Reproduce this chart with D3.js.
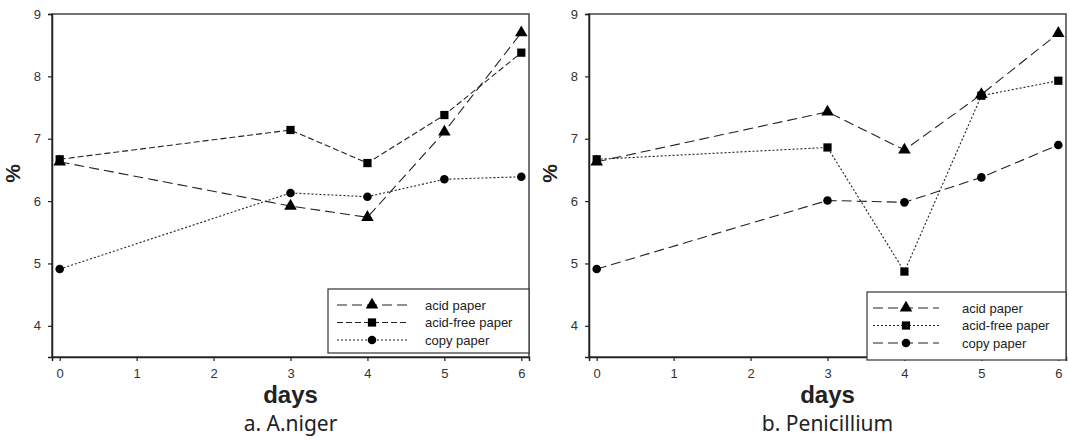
<!DOCTYPE html>
<html>
<head>
<meta charset="utf-8">
<script src="https://cdn.jsdelivr.net/npm/d3@7"></script>
<style>
  body { margin: 0; background: #fff; }
  svg { display: block; }
</style>
</head>
<body>
<svg id="chart" width="1069" height="440"></svg>
<script>
const days = [0, 3, 4, 5, 6];
const xTicks = [0, 1, 2, 3, 4, 5, 6];
const yTicks = [4, 5, 6, 7, 8, 9];
const seriesNames = ["acid paper", "acid-free paper", "copy paper"];

// A.niger
const nigerAcid = [6.63, 5.92, 5.74, 7.11, 8.70];
const nigerAcidFree = [6.67, 7.14, 6.61, 7.38, 8.38];
const nigerCopy = [4.91, 6.13, 6.07, 6.35, 6.39];

// Penicillium
const peniAcid = [6.63, 7.43, 6.82, 7.71, 8.69];
const peniAcidFree = [6.67, 6.86, 4.87, 7.69, 7.93];
const peniCopy = [4.91, 6.01, 5.98, 6.38, 6.90];

const svg = d3.select("#chart");

const plotH = 343;
const plotTop = 14;

const symbols = [d3.symbolTriangle, d3.symbolSquare, d3.symbolCircle];
const symSizes = [68, 68, 58];

function drawPanel(opts) {
  const { left, width, series, dashes, caption, legend } = opts;

  const x = d3.scaleLinear().domain([-0.1, 6.1]).range([0, width]);
  const y = d3.scaleLinear().domain([3.5, 9]).range([plotH, 0]);

  const g = svg.append("g").attr("transform", `translate(${left},${plotTop})`);

  // frame
  g.append("rect")
    .attr("width", width).attr("height", plotH)
    .attr("fill", "none").attr("stroke", "#444").attr("stroke-width", 1.5);

  const xAxis = g.append("g")
    .attr("transform", `translate(0,${plotH})`)
    .call(d3.axisBottom(x).tickValues(xTicks).tickFormat(d3.format("d")).tickSize(4).tickPadding(8));
  const yAxis = g.append("g")
    .call(d3.axisLeft(y).tickValues(yTicks).tickFormat(d3.format("d")).tickSize(4).tickPadding(7));

  [xAxis, yAxis].forEach(a => {
    a.attr("font-family", null).attr("font-size", null);
    a.select(".domain").attr("stroke", "#222").attr("stroke-width", 1.5);
    a.selectAll(".tick line").attr("stroke", "#222").attr("stroke-width", 1.2);
    a.selectAll("text")
      .style("font-family", "Liberation Sans, Arial, sans-serif")
      .style("font-size", "13px")
      .attr("fill", "#333");
  });

  const line = d3.line().x((d, i) => x(days[i])).y(d => y(d));

  series.forEach((vals, si) => {
    g.append("path")
      .datum(vals)
      .attr("d", line)
      .attr("fill", "none")
      .attr("stroke", "#222")
      .attr("stroke-width", 1.1)
      .attr("stroke-dasharray", dashes[si]);

    g.selectAll(".pt" + si)
      .data(vals)
      .enter()
      .append("path")
      .attr("transform", (d, i) => `translate(${x(days[i])},${y(d)})`)
      .attr("d", d3.symbol().type(symbols[si]).size(symSizes[si]))
      .attr("fill", "#000");
  });

  // legend
  const lg = g.append("g").attr("transform", `translate(${legend.x},${legend.y})`);
  lg.append("rect")
    .attr("width", width - legend.x).attr("height", legend.h)
    .attr("fill", "#fff").attr("stroke", "#333").attr("stroke-width", 1.2);

  seriesNames.forEach((name, si) => {
    const ry = 16 + si * 17.5;
    lg.append("line")
      .attr("x1", legend.lx1).attr("x2", legend.lx2)
      .attr("y1", ry).attr("y2", ry)
      .attr("stroke", "#222").attr("stroke-width", 1.1)
      .attr("stroke-dasharray", dashes[si]);
    lg.append("path")
      .attr("transform", `translate(${(legend.lx1 + legend.lx2) / 2},${ry})`)
      .attr("d", d3.symbol().type(symbols[si]).size(symSizes[si]))
      .attr("fill", "#000");
    lg.append("text")
      .attr("x", legend.tx).attr("y", ry + 4.5)
      .style("font-family", "Liberation Sans, Arial, sans-serif")
      .style("font-size", "13px")
      .attr("fill", "#222")
      .text(name);
  });

  // axis titles
  g.append("text")
    .attr("x", width / 2).attr("y", plotH + 46)
    .attr("text-anchor", "middle")
    .style("font-family", "Liberation Sans, Arial, sans-serif")
    .style("font-size", "24px")
    .style("font-weight", "bold")
    .attr("fill", "#222")
    .text("days");

  g.append("text")
    .attr("transform", `translate(-32,${plotH / 2 - 12}) rotate(-90)`)
    .attr("text-anchor", "middle")
    .style("font-family", "Liberation Sans, Arial, sans-serif")
    .style("font-size", "21px")
    .style("font-weight", "bold")
    .attr("fill", "#222")
    .text("%");

  g.append("text")
    .attr("x", width / 2).attr("y", plotH + 74)
    .attr("text-anchor", "middle")
    .style("font-family", "Noto Sans, sans-serif")
    .style("font-size", "21px")
    .attr("fill", "#222")
    .text(caption);
}

drawPanel({
  left: 52, width: 477,
  series: [nigerAcid, nigerAcidFree, nigerCopy],
  dashes: ["10,5", "6,3", "2,2"],
  caption: "a. A.niger",
  legend: { x: 276, y: 275, h: 64, lx1: 9, lx2: 79, tx: 97 }
});

drawPanel({
  left: 589, width: 477,
  series: [peniAcid, peniAcidFree, peniCopy],
  dashes: ["10,5", "2,2", "10,5"],
  caption: "b. Penicillium",
  legend: { x: 278, y: 278, h: 68, lx1: 6, lx2: 72, tx: 95 }
});
</script>
</body>
</html>
